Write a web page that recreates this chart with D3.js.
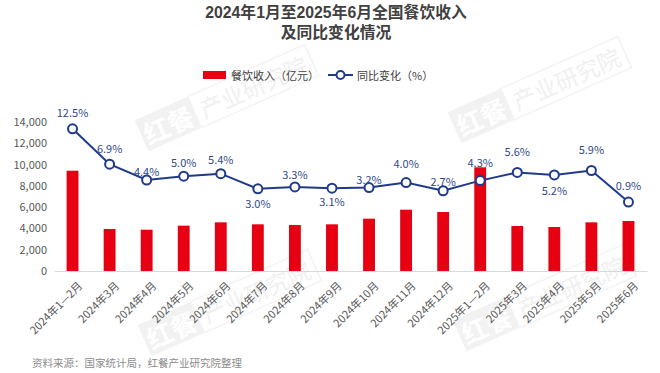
<!DOCTYPE html>
<html><head><meta charset="utf-8">
<script src="https://cdn.jsdelivr.net/npm/d3@7"></script>
<style>
html,body{margin:0;padding:0;background:#fff;}
svg{display:block;font-family:"Noto Sans CJK SC","Noto Sans",sans-serif;}
</style></head>
<body><svg id="c" width="660" height="373"></svg>
<script>
const categories = ["2024年1—2月","2024年3月","2024年4月","2024年5月","2024年6月","2024年7月","2024年8月","2024年9月","2024年10月","2024年11月","2024年12月","2025年1—2月","2025年3月","2025年4月","2025年5月","2025年6月"];
const revenue = [9424, 3946, 3880, 4260, 4573, 4385, 4322, 4385, 4917, 5760, 5544, 9744, 4228, 4134, 4573, 4698];
const growth = [12.5, 6.9, 4.4, 5.0, 5.4, 3.0, 3.3, 3.1, 3.2, 4.0, 2.7, 4.3, 5.6, 5.2, 5.9, 0.9];
const growthLabels = ["12.5%","6.9%","4.4%","5.0%","5.4%","3.0%","3.3%","3.1%","3.2%","4.0%","2.7%","4.3%","5.6%","5.2%","5.9%","0.9%"];
const yTicks = [0, 2000, 4000, 6000, 8000, 10000, 12000, 14000];
const titleLines = ["2024年1月至2025年6月全国餐饮收入", "及同比变化情况"];
// label offset (px) relative to point, layout only
const labelOffset = [-17,-16,-9,-14,-15,14,-13,13,-9,-20,-10,-19,-21,15,-22,-17];

(function(){
const svg = d3.select("#c");
const mLeft = 54, mRight = 647, mBottom = 271, mTop = 122;

// watermarks
function watermark(cx, cy){
  const g = svg.append("g").attr("transform", `translate(${cx},${cy}) rotate(-24)`).attr("opacity", 0.5);
  g.append("rect").attr("x",-88).attr("y",-17).attr("width",58).attr("height",34).attr("fill","#e6e6e6");
  g.append("text").attr("x",-59).attr("y",0).attr("text-anchor","middle").attr("dominant-baseline","central")
    .attr("font-size",26).attr("font-weight","bold").attr("fill","#fff").text("红餐");
  g.append("rect").attr("x",-30).attr("y",-17).attr("width",128).attr("height",34).attr("fill","none").attr("stroke","#eaeaea").attr("stroke-width",1.5);
  g.append("text").attr("x",34).attr("y",0).attr("text-anchor","middle").attr("dominant-baseline","central")
    .attr("font-size",23).attr("fill","#e3e3e3").text("产业研究院");
}
watermark(222, 100);
watermark(535, 92);
watermark(225, 305);
watermark(540, 300);

const x = d3.scaleBand().domain(categories).range([mLeft, mRight]).padding(0);
const y = d3.scaleLinear().domain([0, 14000]).range([mBottom, mTop]);
const y2 = d3.scaleLinear().domain([-10, 14]).range([mBottom, mBottom - 24*6.32]);

// title (two lines)
svg.append("g").selectAll("text").data(titleLines).join("text")
  .attr("fill","#404040").attr("font-size",15.8).attr("font-weight","bold").attr("text-anchor","middle")
  .attr("font-family",'"Liberation Sans","Noto Sans CJK SC",sans-serif')
  .attr("x",336).attr("y",(d,i)=>18.2 + i*19.6).text(d=>d);

// legend
const lg = svg.append("g").attr("font-size",11).attr("fill","#404040");
lg.append("rect").attr("x",203).attr("y",71).attr("width",23).attr("height",8).attr("fill","#e60012");
lg.append("text").attr("x",231).attr("y",75).attr("dominant-baseline","central").text("餐饮收入（亿元）");
lg.append("line").attr("x1",328).attr("x2",353).attr("y1",75).attr("y2",75).attr("stroke","#1f3a8a").attr("stroke-width",2);
lg.append("circle").attr("cx",340.5).attr("cy",75).attr("r",4).attr("fill","#fff").attr("stroke","#1f3a8a").attr("stroke-width",2);
lg.append("text").attr("x",357).attr("y",75).attr("dominant-baseline","central").text("同比变化（%）");

// y axis
const ya = svg.append("g").attr("transform",`translate(${mLeft},0)`)
  .call(d3.axisLeft(y).tickValues(yTicks).tickSize(0).tickPadding(7).tickFormat(d3.format(",")));
ya.select(".domain").remove();
ya.selectAll("text").attr("font-size",11).attr("fill","#595959").attr("font-family",'"Noto Sans CJK SC",sans-serif');

// bars
const bw = x.bandwidth()*0.32;
svg.append("g").selectAll("rect").data(revenue).join("rect")
  .attr("x",(d,i)=>x(categories[i]) + x.bandwidth()/2 - bw/2)
  .attr("y",d=>y(d)).attr("width",bw).attr("height",d=>y(0)-y(d)).attr("fill","#e60012");

// x axis
const xa = svg.append("g").attr("transform",`translate(0,${mBottom})`)
  .call(d3.axisBottom(x).tickSize(0).tickPadding(0));
xa.select(".domain").attr("stroke","#d9d9d9").attr("stroke-width",1);
xa.selectAll("text").attr("font-size",11).attr("fill","#595959").attr("font-family",'"Noto Sans CJK SC",sans-serif')
  .attr("text-anchor","end").attr("dy",null).attr("y",null)
  .attr("transform","translate(7,12) rotate(-45)").attr("dominant-baseline","central");

// line
const cx = (i)=>x(categories[i]) + x.bandwidth()/2;
const line = d3.line().x((d,i)=>cx(i)).y(d=>y2(d));
svg.append("path").datum(growth).attr("d",line).attr("fill","none").attr("stroke","#1f3a8a").attr("stroke-width",2);
svg.append("g").selectAll("circle").data(growth).join("circle")
  .attr("cx",(d,i)=>cx(i)).attr("cy",d=>y2(d)).attr("r",4.5)
  .attr("fill","#fff").attr("stroke","#1f3a8a").attr("stroke-width",2);
svg.append("g").selectAll("text").data(growth).join("text")
  .attr("x",(d,i)=>cx(i)).attr("y",(d,i)=>y2(d)+labelOffset[i])
  .attr("text-anchor","middle").attr("dominant-baseline","central")
  .attr("font-size",11).attr("fill","#2f4a8a").text((d,i)=>growthLabels[i]);

// source
svg.append("text").attr("x",32).attr("y",362).attr("dominant-baseline","central")
  .attr("font-size",10.5).attr("fill","#8c8c8c").text("资料来源：国家统计局，红餐产业研究院整理");
})();
</script></body></html>
